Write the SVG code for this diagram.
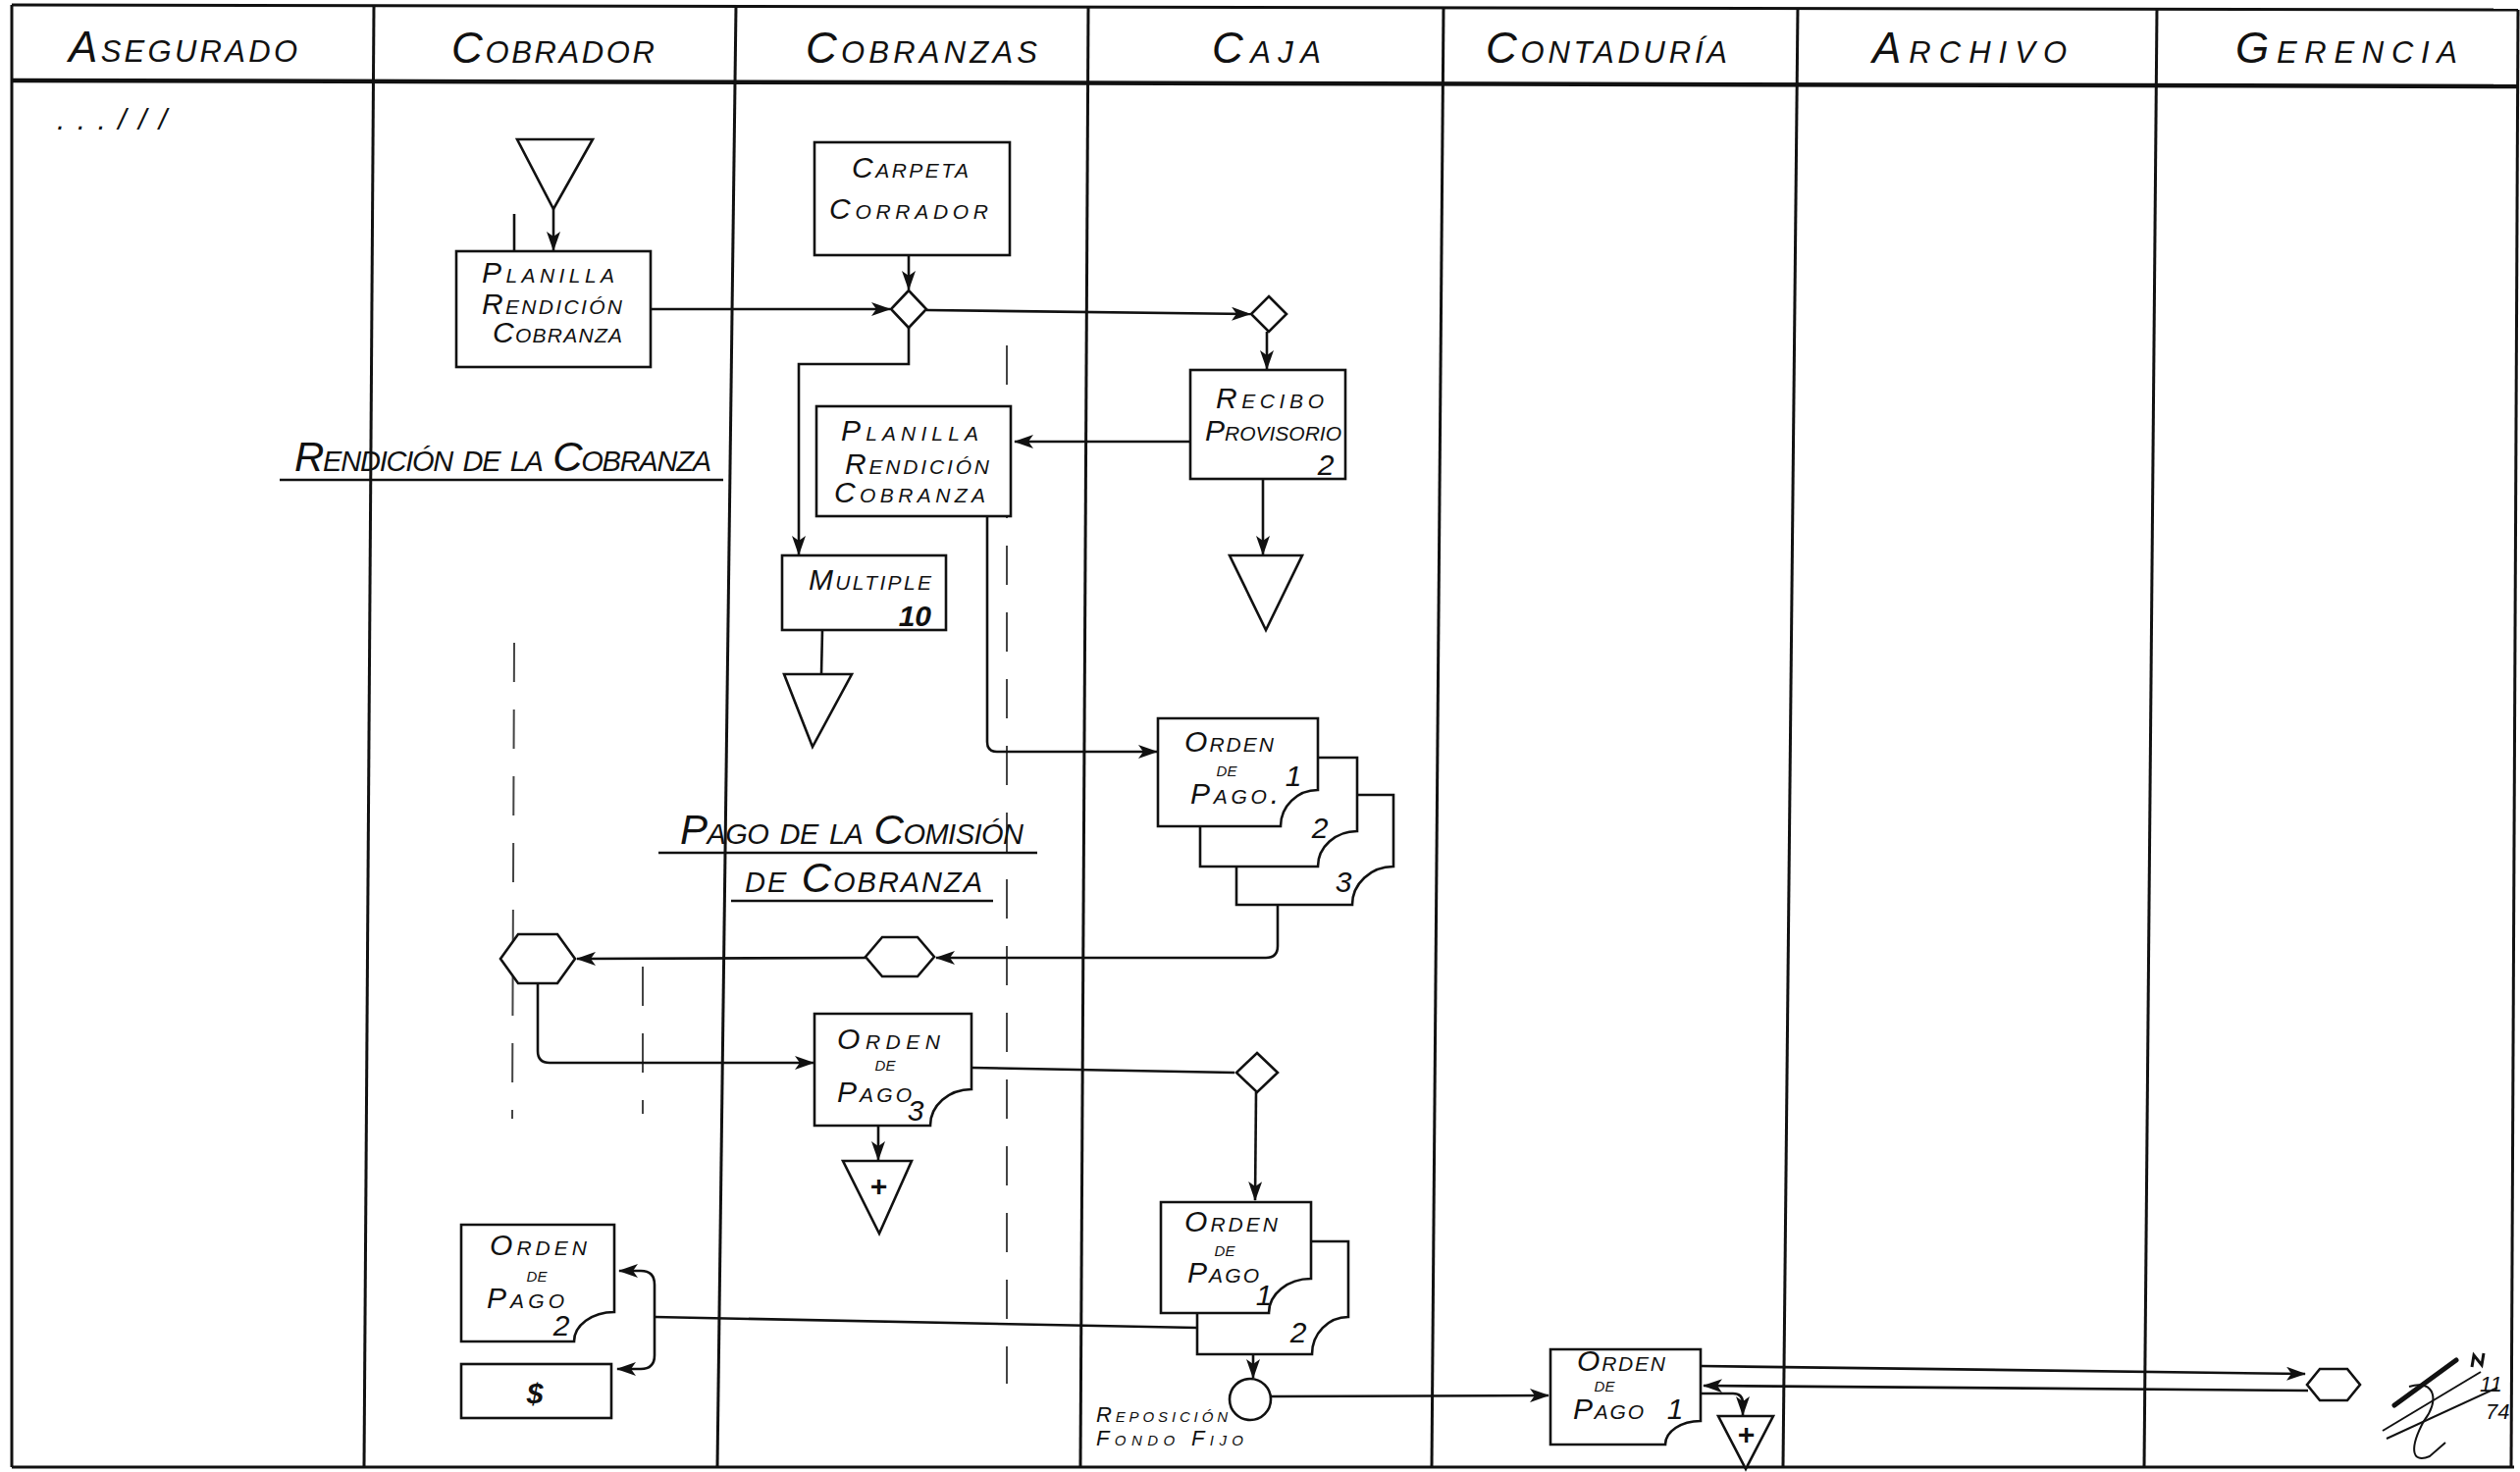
<svg xmlns="http://www.w3.org/2000/svg" width="2568" height="1500" viewBox="0 0 2568 1500">
<style>
  .frame { stroke: #111; stroke-width: 3; fill: none; }
  .thick { stroke: #111; stroke-width: 4.5; fill: none; }
  .shape { stroke: #111; stroke-width: 2.6; fill: #fff; }
  .conn { stroke: #111; stroke-width: 2.6; fill: none; }
  .dash { stroke: #444; stroke-width: 2; fill: none; stroke-dasharray: 40 28; }
  .h { font-family: "Liberation Sans", Arial, sans-serif; font-style: italic; font-variant: small-caps; font-size: 44px; fill: #111; }
  .t { font-family: "Liberation Sans", Arial, sans-serif; font-style: italic; font-variant: small-caps; font-size: 30px; fill: #111; }
  .s { font-family: "Liberation Sans", Arial, sans-serif; font-style: italic; font-variant: small-caps; font-size: 22px; fill: #111; }
  .n { font-family: "Liberation Sans", Arial, sans-serif; font-style: italic; font-size: 30px; fill: #111; }
  .title { font-family: "Liberation Sans", Arial, sans-serif; font-style: italic; font-variant: small-caps; font-size: 42px; fill: #111; }
</style>
<defs>
  <marker id="ah" viewBox="0 0 20 14" refX="19" refY="7" markerWidth="20" markerHeight="14" markerUnits="userSpaceOnUse" orient="auto">
    <path d="M0,0 L20,7 L0,14 L5,7 z" fill="#111"/>
  </marker>
</defs>
<rect x="0" y="0" width="2568" height="1500" fill="#fff"/>

<g id="frame">
  <path class="frame" d="M12,5 L2566,10"/>
  <path class="thick" d="M12,82 L2566,88"/>
  <path class="frame" d="M12,1495 L2562,1495"/>
  <path class="frame" d="M12,5 L12,1495"/>
  <path class="frame" d="M381,5 L371,1495"/>
  <path class="frame" d="M750,6 L731,1495"/>
  <path class="frame" d="M1109,7 L1101,1495"/>
  <path class="frame" d="M1471,8 L1459,1495"/>
  <path class="frame" d="M1832,8 L1817,1495"/>
  <path class="frame" d="M2198,9 L2185,1495"/>
  <path class="frame" d="M2566,10 L2559,1495"/>
</g>

<g id="headers">
  <text class="h" x="70" y="63" textLength="233" lengthAdjust="spacing">Asegurado</text>
  <text class="h" x="460" y="64" textLength="207" lengthAdjust="spacing">Cobrador</text>
  <text class="h" x="821" y="64" textLength="236" lengthAdjust="spacing">Cobranzas</text>
  <text class="h" x="1235" y="64" textLength="111" lengthAdjust="spacing">Caja</text>
  <text class="h" x="1514" y="64" textLength="246" lengthAdjust="spacing">Contaduría</text>
  <text class="h" x="1908" y="64" textLength="198" lengthAdjust="spacing">Archivo</text>
  <text class="h" x="2278" y="64" textLength="226" lengthAdjust="spacing">Gerencia</text>
</g>

<g id="marks">
  <text class="n" x="58" y="132" textLength="112" lengthAdjust="spacing" font-size="34">...///</text>
  <path class="conn" d="M524,218 L524,267" stroke-width="2"/>
  <path class="dash" d="M524,655 L522,1140"/>
  <path class="dash" d="M655,985 L655,1135" stroke-dasharray="14 40"/>
  <path class="dash" d="M1026,352 L1026,1410" stroke-dasharray="30 36"/>
</g>

<g id="titles">
  <text class="title" x="300" y="480" textLength="425" lengthAdjust="spacing">Rendición de la Cobranza</text>
  <path class="conn" d="M285,489 L737,489"/>
  <text class="title" x="693" y="860" textLength="350" lengthAdjust="spacing">Pago de la Comisión</text>
  <path class="conn" d="M671,869 L1057,869"/>
  <text class="title" x="759" y="909" textLength="242" lengthAdjust="spacing">de Cobranza</text>
  <path class="conn" d="M745,918 L1012,918"/>
</g>

<g id="connectors">
  <path class="conn" marker-end="url(#ah)" d="M564,213 L564,255"/>
  <path class="conn" marker-end="url(#ah)" d="M663,315 L907,315"/>
  <path class="conn" marker-end="url(#ah)" d="M926,260 L926,295"/>
  <path class="conn" marker-end="url(#ah)" d="M944,316 L1274,320"/>
  <path class="conn" marker-end="url(#ah)" d="M926,334 L926,371 L814,371 L814,565"/>
  <path class="conn" marker-end="url(#ah)" d="M1291,338 L1291,376"/>
  <path class="conn" marker-end="url(#ah)" d="M1213,450 L1034,450"/>
  <path class="conn" marker-end="url(#ah)" d="M1287,488 L1287,565"/>
  <path class="conn" d="M838,642 L837,687" stroke-width="4.5"/>
  <path class="conn" marker-end="url(#ah)" d="M1006,526 L1006,756 Q1006,766 1016,766 L1179,766"/>
  <path class="conn" marker-end="url(#ah)" d="M1302,922 L1302,964 Q1302,976 1290,976 L954,976"/>
  <path class="conn" marker-end="url(#ah)" d="M882,976 L588,977"/>
  <path class="conn" marker-end="url(#ah)" d="M548,1002 L548,1071 Q548,1083 560,1083 L829,1083"/>
  <path class="conn" d="M990,1088 L1258,1093"/>
  <path class="conn" marker-end="url(#ah)" d="M895,1147 L895,1182"/>
  <path class="conn" marker-end="url(#ah)" d="M1280,1113 L1279,1223"/>
  <path class="conn" marker-end="url(#ah)" d="M1277,1338 L1277,1404"/>
  <path class="conn" marker-end="url(#ah)" d="M1295,1423 L1578,1422"/>
  <path class="conn" d="M1220,1353 L667,1342"/>
  <path class="conn" marker-end="url(#ah)" d="M667,1342 L667,1309 Q667,1295 653,1295 L631,1295"/>
  <path class="conn" marker-end="url(#ah)" d="M667,1342 L667,1381 Q667,1395 653,1395 L629,1395"/>
  <path class="conn" marker-end="url(#ah)" d="M1733,1392 L2349,1400"/>
  <path class="conn" marker-end="url(#ah)" d="M2352,1417 L1736,1412"/>
  <path class="conn" marker-end="url(#ah)" d="M1733,1420 L1766,1420 Q1776,1420 1776,1430 L1776,1442"/>
</g>

<g id="n-tri-cobrador"><polygon class="shape" points="527,142 604,142 564,213"/></g>

<g id="n-planilla1">
  <rect class="shape" x="465" y="256" width="198" height="118"/>
  <text class="t" x="491" y="288" textLength="135" lengthAdjust="spacing">Planilla</text>
  <text class="t" x="491" y="320" textLength="143" lengthAdjust="spacing">Rendición</text>
  <text class="t" x="502" y="349" textLength="132" lengthAdjust="spacing">Cobranza</text>
</g>

<g id="n-carpeta">
  <rect class="shape" x="830" y="145" width="199" height="115"/>
  <text class="t" x="868" y="181" textLength="119" lengthAdjust="spacing">Carpeta</text>
  <text class="t" x="845" y="223" textLength="162" lengthAdjust="spacing" font-size="33">Corrador</text>
</g>

<g id="n-d1"><polygon class="shape" points="926,296 944,315 926,334 908,315"/></g>
<g id="n-d2"><polygon class="shape" points="1293,302 1311,320 1293,338 1275,320"/></g>

<g id="n-recibo">
  <rect class="shape" x="1213" y="377" width="158" height="111"/>
  <text class="t" x="1239" y="416" textLength="110" lengthAdjust="spacing">Recibo</text>
  <text class="t" x="1228" y="449" textLength="139" lengthAdjust="spacing">Provisorio</text>
  <text class="n" x="1351" y="484" text-anchor="middle" font-size="32">2</text>
</g>

<g id="n-planilla2">
  <rect class="shape" x="832" y="414" width="198" height="112"/>
  <text class="t" x="857" y="449" textLength="140" lengthAdjust="spacing">Planilla</text>
  <text class="t" x="861" y="483" textLength="147" lengthAdjust="spacing">Rendición</text>
  <text class="t" x="850" y="512" textLength="154" lengthAdjust="spacing">Cobranza</text>
</g>

<g id="n-multiple">
  <rect class="shape" x="797" y="566" width="167" height="76"/>
  <text class="t" x="824" y="601" textLength="125" lengthAdjust="spacing">Multiple</text>
  <text class="n" x="949" y="638" text-anchor="end" font-size="28" font-weight="bold">10</text>
</g>

<g id="n-tri-multiple"><polygon class="shape" points="799,687 868,687 828,761"/></g>
<g id="n-tri-caja"><polygon class="shape" points="1253,566 1327,566 1290,642"/></g>

<g id="n-op-stack">
  <path class="shape" d="M1260,810 L1420,810 L1420,883 A42,39 0 0 0 1378,922 L1260,922 Z"/>
  <path class="shape" d="M1223,772 L1383,772 L1383,847 A40,36 0 0 0 1343,883 L1223,883 Z"/>
  <path class="shape" d="M1180,732 L1343,732 L1343,805 A38,37 0 0 0 1305,842 L1180,842 Z"/>
  <text class="t" x="1207" y="766" textLength="91" lengthAdjust="spacing">Orden</text>
  <text class="s" x="1250" y="791" text-anchor="middle">de</text>
  <text class="t" x="1213" y="819" textLength="90" lengthAdjust="spacing" font-size="34">Pago.</text>
  <text class="n" x="1318" y="801" text-anchor="middle" font-size="32">1</text>
  <text class="n" x="1345" y="854" text-anchor="middle" font-size="32">2</text>
  <text class="n" x="1369" y="909" text-anchor="middle" font-size="32">3</text>
</g>

<g id="n-hex-cobranzas"><polygon class="shape" points="882,975 899,955 935,955 952,975 935,995 899,995"/></g>
<g id="n-hex-cobrador"><polygon class="shape" points="510,977 528,952 568,952 586,977 568,1002 528,1002"/></g>

<g id="n-op3">
  <path class="shape" d="M830,1033 L990,1033 L990,1110 A42,37 0 0 0 948,1147 L830,1147 Z"/>
  <text class="t" x="853" y="1069" textLength="105" lengthAdjust="spacing">Orden</text>
  <text class="s" x="902" y="1091" text-anchor="middle">de</text>
  <text class="t" x="853" y="1123" textLength="76" lengthAdjust="spacing">Pago</text>
  <text class="n" x="933" y="1142" text-anchor="middle" font-size="28">3</text>
</g>

<g id="n-tri-plus1">
  <polygon class="shape" points="859,1183 929,1183 896,1257"/>
  <text class="n" x="895" y="1219" text-anchor="middle" font-size="30" font-style="normal" font-weight="bold">+</text>
</g>

<g id="n-d3"><polygon class="shape" points="1281,1073 1302,1093 1281,1113 1260,1093"/></g>

<g id="n-op2">
  <path class="shape" d="M470,1248 L626,1248 L626,1337 A41,30 0 0 0 585,1367 L470,1367 Z"/>
  <text class="t" x="499" y="1279" textLength="99" lengthAdjust="spacing">Orden</text>
  <text class="s" x="547" y="1306" text-anchor="middle">de</text>
  <text class="t" x="496" y="1333" textLength="79" lengthAdjust="spacing">Pago</text>
  <text class="n" x="572" y="1361" text-anchor="middle" font-size="32">2</text>
</g>

<g id="n-dollar">
  <rect class="shape" x="470" y="1390" width="153" height="55"/>
  <text class="n" x="545" y="1430" text-anchor="middle" font-size="32" font-style="normal" font-weight="bold">$</text>
</g>

<g id="n-op1">
  <path class="shape" d="M1220,1265 L1374,1265 L1374,1342 A37,38 0 0 0 1337,1380 L1220,1380 Z"/>
  <path class="shape" d="M1183,1225 L1336,1225 L1336,1303 A43,35 0 0 0 1293,1338 L1183,1338 Z"/>
  <text class="t" x="1207" y="1255" textLength="95" lengthAdjust="spacing" font-size="28">Orden</text>
  <text class="s" x="1248" y="1280" text-anchor="middle" font-size="19">de</text>
  <text class="t" x="1210" y="1307" textLength="73" lengthAdjust="spacing" font-size="28">Pago</text>
  <text class="n" x="1288" y="1330" text-anchor="middle" font-size="28">1</text>
  <text class="n" x="1323" y="1368" text-anchor="middle" font-size="28">2</text>
</g>

<g id="n-circle">
  <circle class="shape" cx="1274" cy="1426" r="21"/>
  <text class="s" x="1117" y="1449" textLength="134" lengthAdjust="spacing">Reposición</text>
  <text class="s" x="1117" y="1473" textLength="150" lengthAdjust="spacing">Fondo Fijo</text>
</g>

<g id="n-op-contaduria">
  <path class="shape" d="M1580,1375 L1733,1375 L1733,1448 A36,24 0 0 0 1697,1472 L1580,1472 Z"/>
  <text class="t" x="1607" y="1397" textLength="90" lengthAdjust="spacing" font-size="24">Orden</text>
  <text class="s" x="1635" y="1418" text-anchor="middle" font-size="16">de</text>
  <text class="t" x="1603" y="1446" textLength="72" lengthAdjust="spacing" font-size="24">Pago</text>
  <text class="n" x="1707" y="1446" text-anchor="middle" font-size="28">1</text>
</g>

<g id="n-tri-plus2">
  <polygon class="shape" points="1751,1443 1807,1443 1779,1497"/>
  <text class="n" x="1779" y="1472" text-anchor="middle" font-size="26" font-style="normal" font-weight="bold">+</text>
</g>

<g id="n-hex-gerencia"><polygon class="shape" points="2351,1411 2364,1395 2392,1395 2405,1411 2392,1427 2364,1427"/></g>

<g id="signature">
  <path d="M2440,1432 L2503,1386" stroke="#111" stroke-width="5" fill="none" stroke-linecap="round"/>
  <path d="M2428,1458 L2528,1398" stroke="#111" stroke-width="2" fill="none"/>
  <path d="M2432,1466 L2545,1414" stroke="#111" stroke-width="2" fill="none"/>
  <path d="M2455,1413 C2482,1405 2486,1428 2470,1448 C2456,1474 2456,1492 2476,1484 L2492,1470" stroke="#111" stroke-width="2" fill="none"/>
  <path d="M2519,1393 L2521,1381 L2529,1391 L2531,1379" stroke="#111" stroke-width="3" fill="none"/>
  <text class="s" x="2527" y="1418" font-size="14" font-variant="normal">11</text>
  <text class="s" x="2533" y="1446" font-size="16" font-variant="normal">74</text>
</g>
</svg>
